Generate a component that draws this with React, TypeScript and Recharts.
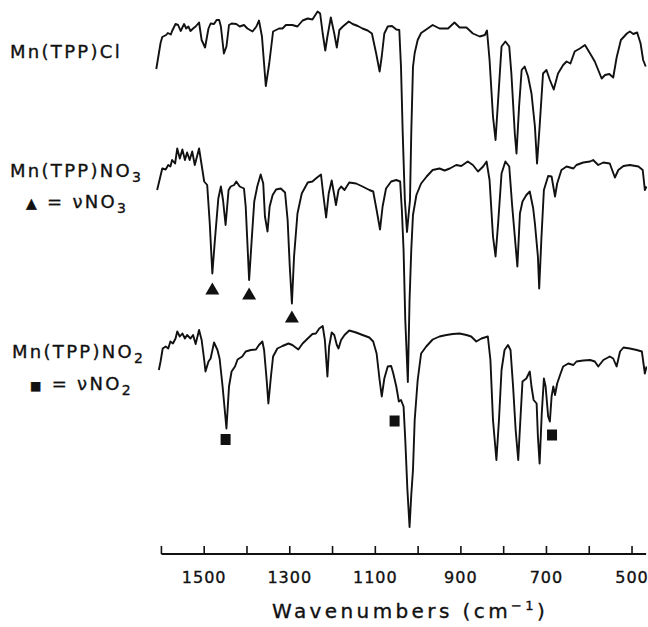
import { ComposedChart, Line, ReferenceLine, Scatter, XAxis, YAxis } from 'recharts';

// IR spectra, wavenumber (cm-1) vs offset transmittance (arb. units)
const clTrace: [number, number][] = [
  [1612, 97.0], [1602, 102.2], [1598, 103.4], [1589, 103.8], [1585, 104.2], [1578, 103.9], [1575, 104.6],
  [1567, 106.0], [1561, 105.8], [1555, 104.6], [1547, 106.0], [1542, 105.1], [1537, 105.5], [1532, 104.6],
  [1526, 105.1], [1520, 105.5], [1512, 106.3], [1506, 102.8], [1498, 101.3], [1490, 105.1], [1485, 106.1],
  [1477, 106.0], [1471, 106.8], [1465, 106.8], [1461, 105.5], [1454, 100.1], [1448, 101.5], [1442, 105.8],
  [1436, 106.1], [1425, 106.0], [1417, 105.5], [1407, 105.8], [1399, 105.1], [1387, 104.5], [1378, 105.5],
  [1372, 106.7], [1365, 103.5], [1356, 93.6], [1348, 98.1], [1339, 104.5], [1325, 105.1], [1317, 105.1],
  [1309, 105.8], [1294, 105.8], [1282, 105.5], [1270, 106.7], [1258, 107.1], [1247, 106.9], [1235, 108.5],
  [1229, 108.1], [1223, 104.1], [1217, 100.7], [1212, 103.5], [1204, 107.3], [1196, 104.1], [1190, 101.3],
  [1184, 104.8], [1176, 105.5], [1162, 106.5], [1153, 106.0], [1141, 105.6], [1130, 105.1], [1118, 104.7],
  [1108, 104.1], [1098, 100.1], [1090, 96.5], [1085, 99.5], [1079, 104.1], [1071, 105.5], [1061, 105.6],
  [1051, 104.9], [1044, 104.8], [1040, 97.4], [1036, 84.2], [1031, 70.8], [1026, 64.4], [1019, 70.8],
  [1016, 84.2], [1012, 97.4], [1008, 100.2], [1001, 102.8], [993, 104.2], [981, 104.9], [966, 105.8],
  [950, 105.1], [930, 105.1], [915, 106.3], [903, 105.3], [887, 105.3], [872, 104.1], [856, 103.5],
  [844, 103.8], [839, 104.7], [833, 98.8], [825, 87.5], [819, 82.8], [813, 90.8], [805, 101.5], [796, 102.5],
  [787, 101.5], [782, 96.1], [774, 84.1], [770, 80.1], [764, 89.5], [758, 96.8], [751, 97.5], [743, 95.5],
  [735, 92.1], [727, 85.5], [722, 78.1], [716, 85.5], [708, 96.1], [700, 96.8], [692, 94.8], [683, 92.9],
  [673, 96.1], [661, 97.8], [653, 98.5], [644, 98.1], [634, 100.5], [622, 101.1], [610, 101.8], [598, 100.1],
  [587, 98.5], [579, 96.8], [571, 95.1], [563, 95.8], [553, 96.0], [544, 95.3], [536, 99.3], [526, 102.8],
  [512, 104.1], [505, 104.5], [497, 104.0], [488, 104.3], [480, 102.1], [474, 98.8], [468, 97.5],
];

const no3Trace: [number, number][] = [
  [1610, 72.8], [1598, 77.1], [1590, 76.9], [1584, 77.8], [1579, 77.5], [1575, 78.8], [1568, 78.1],
  [1563, 81.1], [1557, 79.1], [1551, 80.9], [1545, 78.8], [1540, 80.3], [1534, 78.8], [1528, 80.5],
  [1522, 77.8], [1512, 81.1], [1506, 77.8], [1500, 74.5], [1493, 73.8], [1487, 66.1], [1481, 56.1],
  [1475, 62.8], [1467, 71.1], [1461, 73.5], [1456, 70.8], [1450, 65.8], [1443, 72.8], [1438, 73.5],
  [1430, 73.8], [1425, 74.5], [1417, 73.5], [1407, 73.1], [1403, 69.5], [1395, 54.8], [1389, 62.8],
  [1383, 70.5], [1376, 73.5], [1368, 75.9], [1362, 74.1], [1358, 67.5], [1352, 64.5], [1347, 69.5],
  [1340, 71.8], [1332, 72.9], [1321, 73.1], [1311, 72.3], [1305, 66.8], [1300, 57.5], [1295, 50.1],
  [1290, 59.5], [1282, 68.1], [1272, 72.1], [1258, 74.3], [1247, 74.5], [1239, 75.1], [1227, 75.9],
  [1222, 72.1], [1215, 67.3], [1209, 72.1], [1202, 74.7], [1196, 71.8], [1192, 69.8], [1186, 72.8],
  [1180, 73.5], [1172, 72.8], [1161, 74.3], [1145, 74.1], [1130, 73.5], [1114, 72.8], [1105, 72.5],
  [1097, 68.8], [1089, 64.9], [1083, 69.5], [1075, 73.1], [1063, 74.5], [1051, 74.8], [1042, 74.5],
  [1038, 68.8], [1034, 60.8], [1030, 46.8], [1024, 34.4], [1020, 50.8], [1016, 60.8], [1012, 67.8],
  [1004, 71.8], [993, 74.1], [980, 75.5], [966, 76.8], [950, 77.1], [938, 76.7], [926, 77.1], [911, 77.8],
  [899, 77.6], [884, 78.5], [872, 77.8], [860, 76.5], [848, 77.5], [840, 78.5], [833, 74.8], [825, 63.5],
  [819, 59.5], [813, 66.1], [805, 76.1], [796, 78.5], [787, 77.5], [780, 69.5], [772, 61.5], [768, 57.5],
  [762, 68.1], [756, 70.5], [747, 71.8], [739, 72.5], [731, 69.1], [727, 66.1], [720, 59.5], [717, 53.1],
  [712, 62.8], [706, 72.8], [696, 75.6], [688, 75.5], [680, 71.5], [675, 74.1], [665, 76.8], [653, 77.5],
  [637, 77.1], [630, 77.8], [614, 78.3], [598, 78.5], [591, 78.8], [579, 77.8], [567, 78.3], [552, 78.1],
  [540, 75.3], [532, 76.8], [520, 77.6], [505, 77.8], [485, 77.5], [475, 76.8], [470, 72.8], [466, 73.5],
];

const no2Trace: [number, number][] = [
  [1606, 36.8], [1602, 38.5], [1597, 41.1], [1590, 41.5], [1584, 41.1], [1579, 42.5], [1573, 42.1],
  [1567, 43.1], [1563, 44.5], [1557, 43.5], [1551, 44.1], [1545, 43.1], [1540, 43.8], [1532, 43.1],
  [1526, 43.8], [1520, 42.0], [1512, 44.8], [1506, 42.8], [1500, 38.8], [1497, 36.5], [1490, 38.5],
  [1485, 39.1], [1477, 42.3], [1469, 40.8], [1464, 39.1], [1457, 33.5], [1448, 25.1], [1442, 33.5],
  [1436, 36.5], [1428, 37.5], [1422, 38.9], [1411, 39.5], [1403, 40.5], [1391, 40.8], [1379, 40.9],
  [1372, 41.8], [1364, 42.5], [1360, 40.8], [1354, 34.8], [1350, 30.1], [1344, 35.5], [1339, 39.5],
  [1329, 41.1], [1317, 41.6], [1303, 42.1], [1294, 41.8], [1280, 40.9], [1270, 42.1], [1258, 43.1],
  [1247, 44.0], [1239, 44.1], [1231, 45.1], [1223, 45.6], [1218, 42.8], [1212, 35.5], [1208, 41.5],
  [1202, 44.3], [1196, 43.8], [1190, 41.8], [1186, 41.1], [1180, 42.8], [1172, 43.8], [1161, 44.7],
  [1145, 44.3], [1130, 43.8], [1114, 43.3], [1105, 42.5], [1097, 40.1], [1090, 34.8], [1085, 31.5],
  [1079, 35.1], [1071, 37.5], [1063, 37.6], [1058, 36.1], [1051, 33.5], [1045, 30.5], [1040, 30.8],
  [1034, 29.5], [1030, 22.8], [1025, 12.8], [1020, 5.4], [1016, 11.8], [1012, 16.8], [1008, 26.8],
  [1001, 34.8], [993, 40.1], [981, 41.5], [966, 42.9], [950, 43.5], [934, 43.8], [919, 44.0], [903, 44.1],
  [887, 43.8], [876, 43.5], [864, 42.5], [852, 43.1], [837, 43.5], [831, 38.8], [825, 26.8], [817, 18.8],
  [811, 26.8], [805, 36.8], [798, 40.8], [790, 41.8], [784, 40.8], [778, 33.5], [772, 24.8], [766, 18.8],
  [761, 26.8], [756, 34.5], [747, 35.1], [739, 36.5], [735, 33.5], [730, 30.8], [723, 30.1], [720, 23.5],
  [716, 18.1], [711, 28.1], [706, 35.1], [702, 33.5], [696, 27.5], [692, 26.5], [688, 31.5], [684, 33.5],
  [680, 31.8], [675, 34.1], [667, 36.1], [661, 37.5], [649, 38.1], [637, 37.8], [630, 38.5], [614, 38.7],
  [598, 38.8], [587, 38.5], [579, 37.5], [567, 38.8], [552, 39.5], [544, 39.1], [536, 37.5], [528, 40.5],
  [520, 41.3], [505, 41.1], [489, 40.8], [477, 40.5], [470, 36.1], [466, 37.5],
];

// band markers: ▲ = ν(NO3), ■ = ν(NO2)
const nitrateBands: [number, number][] = [[1481, 53.1], [1395, 52.1], [1295, 47.5]];
const nitriteBands: [number, number][] = [[1450, 22.9], [1055, 26.6], [687, 23.8]];

const axisTicks = [1600, 1500, 1400, 1300, 1200, 1100, 1000, 900, 800, 700, 600, 500];
const labelledTicks = [1500, 1300, 1100, 900, 700, 500];

const FONT = '"DejaVu Sans", Verdana, sans-serif';
const INK = '#111';

const toPoints = (rows: [number, number][]) => rows.map(([wn, v]) => ({ wn, v }));

function AxisTick({ x, y, payload }: any) {
  const show = labelledTicks.includes(payload.value);
  return (
    <g>
      <line x1={x} x2={x} y1={y} y2={y - 8} stroke={INK} strokeWidth={1.6} />
      {show ? (
        <text
          x={x}
          y={y + 29}
          textAnchor="middle"
          fontSize={16}
          letterSpacing={1}
          fill={INK}
          stroke={INK}
          strokeWidth={0.35}
          fontFamily={FONT}
        >
          {payload.value}
        </text>
      ) : null}
    </g>
  );
}

function Triangle({ cx, cy }: any) {
  return <polygon points={`${cx},${cy - 6} ${cx + 7},${cy + 6} ${cx - 7},${cy + 6}`} fill={INK} />;
}

function Square({ cx, cy }: any) {
  return <rect x={cx - 5} y={cy - 5.5} width={10} height={11} fill={INK} />;
}

const traces = [
  { key: 'cl', rows: clTrace },
  { key: 'no3', rows: no3Trace },
  { key: 'no2', rows: no2Trace },
];

export default function App() {
  const labelStyle = {
    fontFamily: FONT,
    fontSize: 18,
    fill: INK,
    stroke: INK,
    strokeWidth: 0.35,
    letterSpacing: 2.3,
  };

  return (
    <div style={{ position: 'absolute', left: 0, top: 0, width: 648, height: 627, background: '#fff' }}>
      <ComposedChart width={648} height={627} margin={{ top: 4, right: 1, bottom: 23, left: 155 }}>
        <XAxis
          type="number"
          dataKey="wn"
          domain={[465, 1615]}
          reversed
          allowDataOverflow
          ticks={axisTicks}
          interval={0}
          axisLine={false}
          tickLine={false}
          tickSize={0}
          tickMargin={0}
          tick={<AxisTick />}
          height={50}
        />
        <YAxis type="number" domain={[0, 110]} hide allowDataOverflow />
        <ReferenceLine
          segment={[
            { x: 1600, y: 0 },
            { x: 467, y: 0 },
          ]}
          stroke={INK}
          strokeWidth={2}
        />
        {traces.map((t) => (
          <Line
            key={t.key}
            data={toPoints(t.rows)}
            dataKey="v"
            type="linear"
            stroke={INK}
            strokeWidth={1.9}
            strokeLinejoin="round"
            dot={false}
            activeDot={false}
            isAnimationActive={false}
          />
        ))}
        <Scatter data={toPoints(nitrateBands)} dataKey="v" shape={<Triangle />} isAnimationActive={false} />
        <Scatter data={toPoints(nitriteBands)} dataKey="v" shape={<Square />} isAnimationActive={false} />
      </ComposedChart>

      <svg width={648} height={627} style={{ position: 'absolute', left: 0, top: 0, pointerEvents: 'none' }}>
        <text x={10} y={58} {...labelStyle}>
          Mn(TPP)Cl
        </text>

        <text x={10} y={177} {...labelStyle}>
          Mn(TPP)NO<tspan fontSize={14} dy={5}>3</tspan>
        </text>
        <text x={26} y={208} {...labelStyle}>
          <tspan fontSize={14}>▲</tspan> = νNO<tspan fontSize={14} dy={5}>3</tspan>
        </text>

        <text x={12} y={358} {...labelStyle}>
          Mn(TPP)NO<tspan fontSize={14} dy={5}>2</tspan>
        </text>
        <text x={30} y={390} {...labelStyle}>
          <tspan fontSize={12}>■</tspan> = νNO<tspan fontSize={14} dy={5}>2</tspan>
        </text>

        <text
          x={272}
          y={618}
          fontFamily={FONT}
          fontSize={20}
          letterSpacing={3.4}
          fill={INK}
          stroke={INK}
          strokeWidth={0.35}
        >
          Wavenumbers (cm<tspan fontSize={13} dy={-8}>−1</tspan>
          <tspan dy={8}>)</tspan>
        </text>
      </svg>
    </div>
  );
}
